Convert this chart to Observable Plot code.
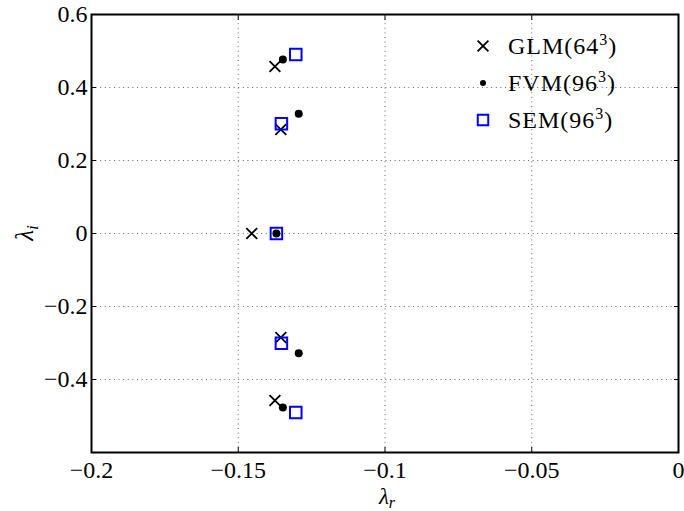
<!DOCTYPE html>
<html>
<head>
<meta charset="utf-8">
<script src="https://cdn.jsdelivr.net/npm/d3@7"></script>
<script src="https://cdn.jsdelivr.net/npm/@observablehq/plot@0.6"></script>
<style>
  body { margin: 0; background: #fff; }
  svg { display: block; }
</style>
</head>
<body>
<div id="chart"></div>
<script>
// Eigenvalues (real part λr, imaginary part λi) from three solvers
const glmRe = [-0.1375, -0.1355, -0.1454, -0.1355, -0.1375];
const glmIm = [0.4575, 0.285, 0, -0.285, -0.4575];
const fvmRe = [-0.1348, -0.1294, -0.137, -0.1294, -0.1348];
const fvmIm = [0.4767, 0.328, 0, -0.328, -0.4767];
const semRe = [-0.1304, -0.1353, -0.137, -0.1353, -0.1304];
const semIm = [0.4904, 0.3005, 0, -0.3005, -0.4904];

const seriesNames = ["GLM", "FVM", "SEM"];
const seriesRes = ["64", "96", "96"];

const xTicks = [-0.2, -0.15, -0.1, -0.05, 0];
const yTicks = [-0.4, -0.2, 0, 0.2, 0.4, 0.6];
const xGrid = [-0.15, -0.1, -0.05];
const yGrid = [-0.4, -0.2, 0, 0.2, 0.4];

const toPoints = (re, im) => re.map((r, i) => ({re: r, im: im[i]}));
const glm = toPoints(glmRe, glmIm);
const fvm = toPoints(fvmRe, fvmIm);
const sem = toPoints(semRe, semIm);

const serif = "'Liberation Serif', 'Times New Roman', serif";
const fmt = d => d === 0 ? "0" : String(d).replace("-", "\u2212");
const dotted = {stroke: "#666", strokeWidth: 1, strokeDasharray: "1,3.6", strokeOpacity: 1};
const blank = () => "";

const chart = Plot.plot({
  width: 684,
  height: 511,
  marginLeft: 91,
  marginRight: 6,
  marginTop: 14,
  marginBottom: 59,
  x: {domain: [-0.2, 0], label: null},
  y: {domain: [-0.6, 0.6], label: null},
  style: {fontFamily: serif, background: "white", color: "black"},
  marks: [
    Plot.ruleX(xGrid, dotted),
    Plot.ruleY(yGrid, dotted),
    // inward ticks on all four sides
    Plot.axisX(xTicks, {anchor: "bottom", tickSize: -5, tickFormat: blank, strokeWidth: 1, label: null}),
    Plot.axisX(xTicks, {anchor: "top", tickSize: -5, tickFormat: blank, strokeWidth: 1, label: null}),
    Plot.axisY(yTicks, {anchor: "left", tickSize: -5, tickFormat: blank, strokeWidth: 1, label: null}),
    Plot.axisY(yTicks, {anchor: "right", tickSize: -5, tickFormat: blank, strokeWidth: 1, label: null}),
    // tick labels
    Plot.axisX(xTicks, {anchor: "bottom", tickSize: 0, tickPadding: 8, tickFormat: fmt, fontSize: 24, letterSpacing: 0.8, label: null}),
    Plot.axisY(yTicks, {anchor: "left", tickSize: 0, tickPadding: 4, tickFormat: fmt, fontSize: 24, letterSpacing: 0.8, label: null}),
    Plot.frame({stroke: "black", strokeWidth: 2}),
    Plot.dot(glm, {x: "re", y: "im", symbol: "times", r: 5, stroke: "black", strokeWidth: 1.8}),
    Plot.dot(sem, {x: "re", y: "im", symbol: "square", r: 6.5, stroke: "#0000ff", strokeWidth: 2, fill: "none"}),
    Plot.dot(fvm, {x: "re", y: "im", symbol: "circle", r: 4, fill: "black", stroke: "none"})
  ]
});

document.getElementById("chart").appendChild(chart);

const svg = d3.select(chart);

// axis titles with subscripts
const xt = svg.append("text")
  .attr("x", 387).attr("y", 504)
  .attr("text-anchor", "middle")
  .attr("font-family", serif).attr("font-size", 23).attr("font-style", "italic");
xt.append("tspan").text("λ");
xt.append("tspan").attr("font-size", 16).attr("dy", 4).text("r");

const yt = svg.append("text")
  .attr("transform", "translate(33,233) rotate(-90)")
  .attr("text-anchor", "middle")
  .attr("font-family", serif).attr("font-size", 25).attr("font-style", "italic");
yt.append("tspan").text("λ");
yt.append("tspan").attr("font-size", 17).attr("dy", 5).text("i");

// legend
const legendSymbols = [
  {sym: d3.symbolTimes, size: Math.PI * 25, fill: "none", stroke: "black", sw: 1.8},
  {sym: d3.symbolCircle, size: Math.PI * 9, fill: "black", stroke: "none", sw: 0},
  {sym: d3.symbolSquare, size: 110, fill: "none", stroke: "#0000ff", sw: 2}
];
const legend = svg.append("g").attr("transform", "translate(483,46)");
seriesNames.forEach((name, i) => {
  const row = legend.append("g").attr("transform", `translate(0,${i * 37})`);
  const s = legendSymbols[i];
  row.append("path")
    .attr("d", d3.symbol(s.sym, s.size)())
    .attr("fill", s.fill).attr("stroke", s.stroke).attr("stroke-width", s.sw);
  const t = row.append("text")
    .attr("x", 25).attr("y", 8)
    .attr("text-anchor", "start")
    .attr("font-family", serif).attr("font-size", 24).attr("letter-spacing", 1);
  t.append("tspan").text(`${name}(${seriesRes[i]}`);
  t.append("tspan").attr("font-size", 16).attr("dy", -9).text("3");
  t.append("tspan").attr("dy", 9).text(")");
});
</script>
</body>
</html>
